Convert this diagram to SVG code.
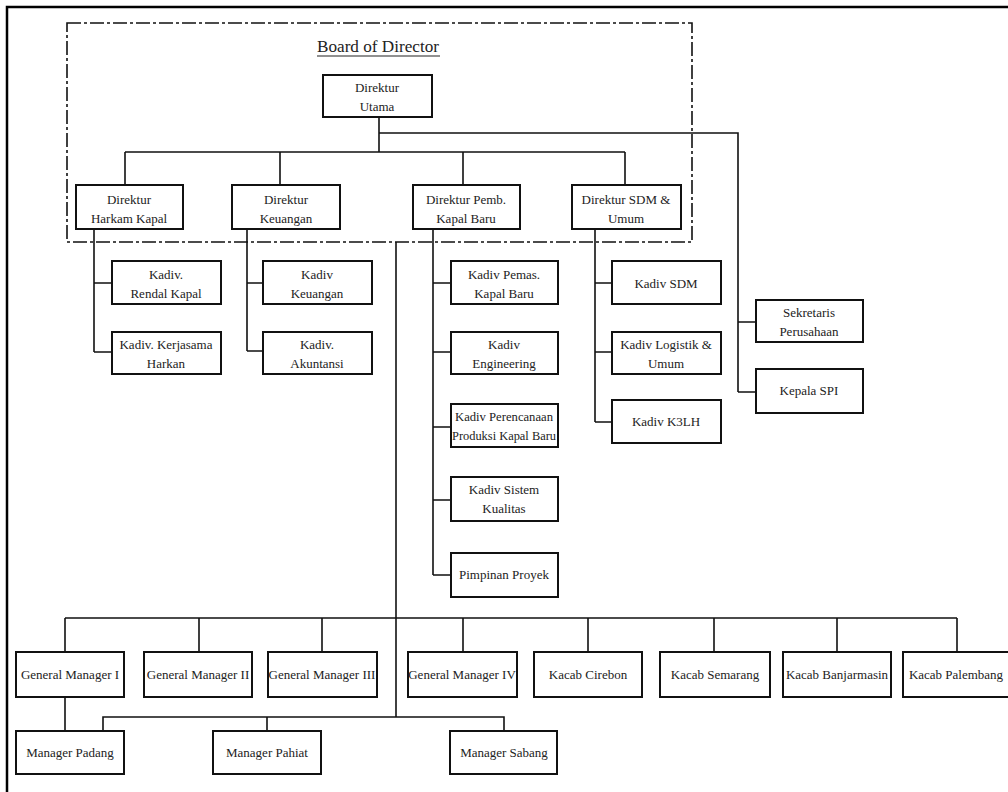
<svg xmlns="http://www.w3.org/2000/svg" width="1008" height="792" viewBox="0 0 1008 792">
<style>
.b{fill:#fff;stroke:#111;stroke-width:2}
.c{fill:none;stroke:#111;stroke-width:1.6}
text{font-family:"Liberation Serif","Times New Roman",serif;font-size:13px;fill:#222;text-anchor:middle}
.t{font-size:17.5px;text-anchor:start}
</style>
<rect x="0" y="0" width="1008" height="792" fill="#fff"/>
<path d="M7,792 V7 H1008" fill="none" stroke="#000" stroke-width="2.5"/>
<rect x="67" y="23" width="625" height="219" fill="none" stroke="#111" stroke-width="1.6" stroke-dasharray="14 3 3 3"/>
<g id="title"><text class="t" x="317" y="52" textLength="122" lengthAdjust="spacingAndGlyphs">Board of Director</text><line x1="317" y1="56" x2="440" y2="56" stroke="#222" stroke-width="1.2"/></g>
<g id="connectors" class="c">
<path class="c" d="M379,117 V152 M125,152 H625 M125,152 V185 M280,152 V185 M463,152 V185 M625,152 V185"/>
<path class="c" d="M379,133 H738 V392 M738,322 H756 M738,392 H756"/>
<path class="c" d="M94,229 V352 M94,283 H112 M94,352 H112"/>
<path class="c" d="M247,229 V351 M247,283 H263 M247,351 H263"/>
<path class="c" d="M433,229 V575 M433,283 H451 M433,352 H451 M433,427 H451 M433,500 H451 M433,575 H451"/>
<path class="c" d="M595,229 V422 M595,283 H612 M595,352 H612 M595,422 H612"/>
<path class="c" d="M396,242 V717"/>
<path class="c" d="M65,618 H957 M65,618 V652 M199,618 V652 M322,618 V652 M463,618 V652 M588,618 V652 M714,618 V652 M837,618 V652 M957,618 V652"/>
<path class="c" d="M65,697 V731 M103,731 V717 H504 V731 M267,717 V731"/>
</g>
<g id="n-utama"><rect class="b" x="323" y="75" width="109" height="42"/><text x="377" y="92">Direktur</text><text x="377" y="111">Utama</text></g>
<g id="n-harkam"><rect class="b" x="76" y="185" width="107" height="44"/><text x="129" y="204">Direktur</text><text x="129" y="223">Harkam Kapal</text></g>
<g id="n-keu"><rect class="b" x="232" y="185" width="108" height="44"/><text x="286" y="204">Direktur</text><text x="286" y="223">Keuangan</text></g>
<g id="n-pemb"><rect class="b" x="413" y="185" width="107" height="44"/><text x="466" y="204">Direktur Pemb.</text><text x="466" y="223">Kapal Baru</text></g>
<g id="n-sdm"><rect class="b" x="572" y="185" width="109" height="44"/><text x="626" y="204">Direktur SDM &amp;</text><text x="626" y="223">Umum</text></g>
<g id="n-rendal"><rect class="b" x="112" y="261" width="109" height="43"/><text x="166" y="279">Kadiv.</text><text x="166" y="298">Rendal Kapal</text></g>
<g id="n-kerjasama"><rect class="b" x="112" y="332" width="109" height="42"/><text x="166" y="349">Kadiv. Kerjasama</text><text x="166" y="368">Harkan</text></g>
<g id="n-kadivkeu"><rect class="b" x="263" y="261" width="109" height="43"/><text x="317" y="279">Kadiv</text><text x="317" y="298">Keuangan</text></g>
<g id="n-akuntansi"><rect class="b" x="263" y="332" width="109" height="42"/><text x="317" y="349">Kadiv.</text><text x="317" y="368">Akuntansi</text></g>
<g id="n-pemas"><rect class="b" x="451" y="261" width="107" height="43"/><text x="504" y="279">Kadiv Pemas.</text><text x="504" y="298">Kapal Baru</text></g>
<g id="n-eng"><rect class="b" x="451" y="332" width="107" height="42"/><text x="504" y="349">Kadiv</text><text x="504" y="368">Engineering</text></g>
<g id="n-peren"><rect class="b" x="451" y="404" width="107" height="43"/><text x="504" y="421" textLength="98" lengthAdjust="spacingAndGlyphs">Kadiv Perencanaan</text><text x="504" y="440" textLength="104" lengthAdjust="spacingAndGlyphs">Produksi Kapal Baru</text></g>
<g id="n-sistem"><rect class="b" x="451" y="477" width="107" height="44"/><text x="504" y="494">Kadiv Sistem</text><text x="504" y="513">Kualitas</text></g>
<g id="n-pimpinan"><rect class="b" x="451" y="553" width="107" height="44"/><text x="504" y="579">Pimpinan Proyek</text></g>
<g id="n-kadivsdm"><rect class="b" x="612" y="261" width="109" height="43"/><text x="666" y="288">Kadiv SDM</text></g>
<g id="n-logistik"><rect class="b" x="612" y="332" width="109" height="42"/><text x="666" y="349">Kadiv Logistik &amp;</text><text x="666" y="368">Umum</text></g>
<g id="n-k3lh"><rect class="b" x="612" y="400" width="109" height="43"/><text x="666" y="426">Kadiv K3LH</text></g>
<g id="n-sekretaris"><rect class="b" x="756" y="300" width="107" height="42"/><text x="809" y="317">Sekretaris</text><text x="809" y="336">Perusahaan</text></g>
<g id="n-spi"><rect class="b" x="756" y="369" width="107" height="44"/><text x="809" y="395">Kepala SPI</text></g>
<g id="n-gm1"><rect class="b" x="16" y="652" width="108" height="45"/><text x="70" y="679">General Manager I</text></g>
<g id="n-gm2"><rect class="b" x="144" y="652" width="108" height="45"/><text x="198" y="679">General Manager II</text></g>
<g id="n-gm3"><rect class="b" x="268" y="652" width="109" height="45"/><text x="322" y="679">General Manager III</text></g>
<g id="n-gm4"><rect class="b" x="408" y="652" width="109" height="45"/><text x="462" y="679">General Manager IV</text></g>
<g id="n-cirebon"><rect class="b" x="534" y="652" width="108" height="45"/><text x="588" y="679">Kacab Cirebon</text></g>
<g id="n-semarang"><rect class="b" x="660" y="652" width="110" height="45"/><text x="715" y="679">Kacab Semarang</text></g>
<g id="n-banjarmasin"><rect class="b" x="783" y="652" width="108" height="45"/><text x="837" y="679">Kacab Banjarmasin</text></g>
<g id="n-palembang"><rect class="b" x="903" y="652" width="106" height="45"/><text x="956" y="679">Kacab Palembang</text></g>
<g id="n-padang"><rect class="b" x="16" y="731" width="108" height="43"/><text x="70" y="757">Manager Padang</text></g>
<g id="n-pahiat"><rect class="b" x="213" y="731" width="108" height="43"/><text x="267" y="757">Manager Pahiat</text></g>
<g id="n-sabang"><rect class="b" x="450" y="731" width="107" height="43"/><text x="504" y="757">Manager Sabang</text></g>
</svg>
